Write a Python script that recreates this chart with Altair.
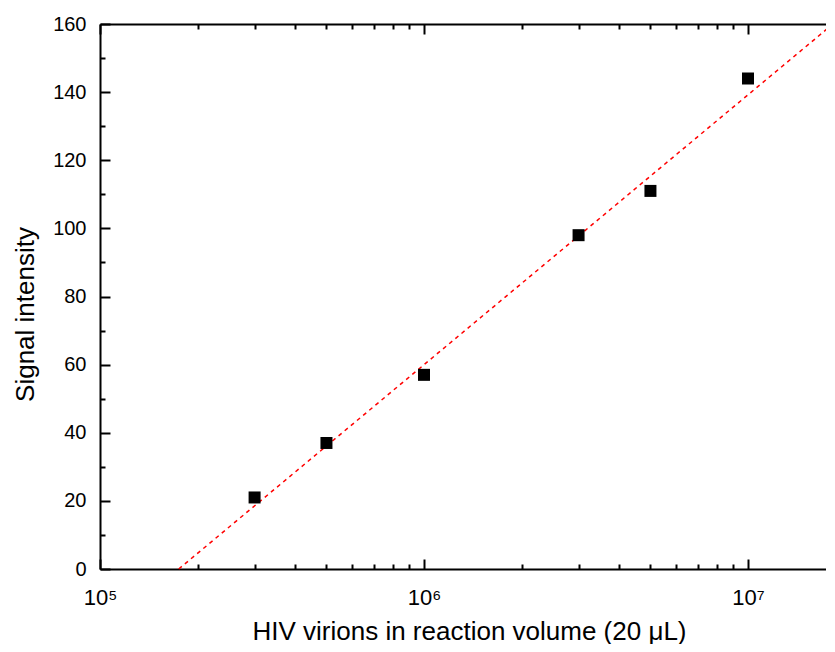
import altair as alt
import pandas as pd

# Data
virions = [3e5, 5e5, 1e6, 3e6, 5e6, 1e7]
signal = [21, 37, 57, 98, 111, 144]
fit_x = [1.75e5, 1.83e7]
fit_y = [0, 160]

x_domain = [1e5, 1.843e7]
y_domain = [0, 160]
x_major = [1e5, 1e6, 1e7]
x_major_labels = ["10⁵", "10⁶", "10⁷"]
x_minor = [2e5, 3e5, 4e5, 5e5, 6e5, 7e5, 8e5, 9e5,
           2e6, 3e6, 4e6, 5e6, 6e6, 7e6, 8e6, 9e6]
y_major = [0, 20, 40, 60, 80, 100, 120, 140, 160]
y_minor = [10, 30, 50, 70, 90, 110, 130, 150]

x_title = "HIV virions in reaction volume (20 μL)"
y_title = "Signal intensity"

W, H = 734, 545
FONT = "Liberation Sans"

pts = pd.DataFrame({"x": virions, "y": signal})
fit = pd.DataFrame({"x": fit_x, "y": fit_y})

# label expression built from the tick label list
expr = "''"
for v, lab in reversed(list(zip(x_major, x_major_labels))):
    expr = f"(abs(datum.value - {v}) < {v}*0.01 ? '{lab}' : {expr})"

xs = alt.Scale(type="log", domain=x_domain, nice=False)
ys = alt.Scale(domain=y_domain, nice=False, zero=False)

def tick_axis(orient, values, size, domain=False):
    ax = dict(orient=orient, values=values, tickSize=size, tickWidth=2,
              tickColor="black", labels=False, domain=domain, grid=False,
              title=None, offset=-(H if orient in ("top", "bottom") else W))
    if domain:
        ax.update(domainColor="black", domainWidth=2)
    return alt.Axis(**ax)

main = alt.Chart(pts).mark_square(size=144, color="black", opacity=1).encode(
    x=alt.X("x:Q", scale=xs, axis=alt.Axis(
        orient="bottom", values=x_major, labelExpr=expr, ticks=False,
        domainColor="black", domainWidth=2, grid=False,
        labelFont=FONT, labelFontSize=22, labelColor="black",
        labelBaseline="alphabetic", labelPadding=35, labelFlush=False,
        title=x_title, titleFont=FONT, titleFontSize=26, titleFontWeight="normal",
        titleColor="black", titleBaseline="alphabetic", titleY=70, titleX=369,
        titleAlign="center")),
    y=alt.Y("y:Q", scale=ys, axis=alt.Axis(
        orient="left", values=y_major, ticks=False,
        domainColor="black", domainWidth=2, grid=False,
        labelFont=FONT, labelFontSize=20, labelColor="black",
        labelPadding=14, labelFlush=False,
        title=y_title, titleFont=FONT, titleFontSize=26, titleFontWeight="normal",
        titleColor="black", titleBaseline="alphabetic", titleX=-67, titleY=290,
        titleAlign="center", titleAngle=270)),
)

line = alt.Chart(fit).mark_line(color="#ff0000", strokeDash=[4, 4], strokeWidth=1.5).encode(
    x=alt.X("x:Q", scale=xs, axis=tick_axis("top", x_major, 10)),
    y=alt.Y("y:Q", scale=ys, axis=tick_axis("right", y_major, 10)),
)

ghost1 = alt.Chart(pts).mark_point(opacity=0).encode(
    x=alt.X("x:Q", scale=xs, axis=tick_axis("top", x_minor, 5)),
    y=alt.Y("y:Q", scale=ys, axis=tick_axis("right", y_minor, 5)),
)
ghost2 = alt.Chart(pts).mark_point(opacity=0).encode(
    x=alt.X("x:Q", scale=xs, axis=tick_axis("bottom", x_major, 10, domain=True)),
    y=alt.Y("y:Q", scale=ys, axis=None),
)
ghost3 = alt.Chart(pts).mark_point(opacity=0).encode(
    x=alt.X("x:Q", scale=xs, axis=tick_axis("bottom", x_minor, 5)),
    y=alt.Y("y:Q", scale=ys, axis=None),
)

chart = alt.layer(line, main, ghost1, ghost2, ghost3).resolve_axis(
    x="independent", y="independent"
).properties(
    width=W, height=H,
    autosize=alt.AutoSizeParams(type="none"),
    padding={"left": 92, "top": 16, "right": -8, "bottom": 75},
    background="white",
).configure_view(stroke=None)

chart.save("out.html", embed_options={"renderer": "svg", "actions": False})
